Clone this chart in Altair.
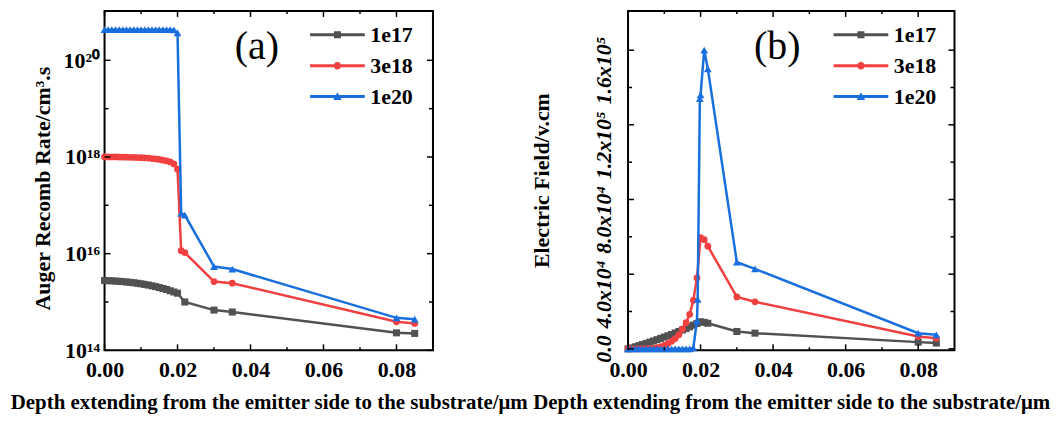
import altair as alt
import pandas as pd

SERIF = "Liberation Serif"

SERIES = ["1e17", "3e18", "1e20"]
COLORS = ["#515151", "#F14040", "#1A6FDF"]
MARKERS = ["square", "circle", "triangle-up"]
MARKER_SIZES = [50, 46, 62]

DENSE_X = [0.000, 0.001, 0.002, 0.003, 0.004, 0.005, 0.006, 0.007, 0.008, 0.009,
           0.010, 0.011, 0.012, 0.013, 0.014, 0.015, 0.016, 0.017, 0.018, 0.019, 0.020]

# ---------- panel (a): Auger recombination rate ----------
A_X_1E17 = DENSE_X + [0.022, 0.030, 0.035, 0.080, 0.085]
A_Y_1E17 = [2.78e15, 2.76e15, 2.74e15, 2.71e15, 2.68e15, 2.64e15, 2.60e15, 2.55e15,
            2.50e15, 2.44e15, 2.38e15, 2.31e15, 2.24e15, 2.16e15, 2.08e15, 1.99e15,
            1.90e15, 1.81e15, 1.71e15, 1.61e15, 1.52e15,
            1.0e15, 6.8e14, 6.2e14, 2.3e14, 2.24e14]

A_X_3E18 = DENSE_X + [0.021, 0.022, 0.030, 0.035, 0.080, 0.085]
A_Y_3E18 = [1.00e18, 1.00e18, 1.00e18, 1.00e18, 0.995e18, 0.99e18, 0.99e18, 0.985e18,
            0.98e18, 0.975e18, 0.97e18, 0.96e18, 0.95e18, 0.93e18, 0.91e18, 0.89e18,
            0.86e18, 0.83e18, 0.79e18, 0.72e18, 0.56e18,
            1.15e16, 1.05e16, 2.65e15, 2.45e15, 3.9e14, 3.6e14]

A_X_1E20 = DENSE_X + [0.021, 0.022, 0.030, 0.035, 0.080, 0.085]
A_Y_1E20 = [4.3e20, 4.3e20, 4.3e20, 4.3e20, 4.3e20, 4.3e20, 4.3e20, 4.3e20,
            4.3e20, 4.3e20, 4.3e20, 4.3e20, 4.3e20, 4.3e20, 4.3e20, 4.3e20,
            4.3e20, 4.3e20, 4.3e20, 4.25e20, 3.7e20,
            6.8e16, 6.3e16, 5.4e15, 4.8e15, 4.7e14, 4.4e14]

# ---------- panel (b): electric field ----------
B_X_1E17 = DENSE_X + [0.021, 0.022, 0.030, 0.035, 0.080, 0.085]
B_Y_1E17 = [0, 500, 1100, 1700, 2300, 2900, 3600, 4200, 4900, 5600, 6300, 7000,
            7700, 8500, 9300, 10100, 10900, 11800, 12700, 13600, 14500,
            14200, 13700, 9300, 8400, 3600, 3100]

B_X_3E18 = DENSE_X + [0.021, 0.022, 0.030, 0.035, 0.080, 0.085]
B_Y_3E18 = [0, 0, 0, 10, 30, 60, 150, 300, 600, 1100, 1900, 2800, 4000, 5500,
            7500, 10500, 14000, 18500, 26000, 38000, 59600,
            58500, 55000, 27800, 25200, 6600, 5700]

B_X_1E20 = [0.000, 0.001, 0.002, 0.003, 0.004, 0.005, 0.006, 0.007, 0.008, 0.009,
            0.010, 0.011, 0.012, 0.013, 0.014, 0.015, 0.016, 0.017, 0.018,
            0.019, 0.0192, 0.0198, 0.020, 0.021, 0.022, 0.030, 0.035, 0.080, 0.085]
B_Y_1E20 = [0, 0, 0, 0, 0, 0, 0, 0, 0, 0, 0, 0, 0, 0, 0, 0, 0, 0, 500,
            15000, 26500, 134000, 136000, 160000, 150000, 46400, 42800, 8400, 7500]

# ---------- ticks and labels ----------
X_MAJOR = [0.00, 0.02, 0.04, 0.06, 0.08]
X_MINOR = [0.01, 0.03, 0.05, 0.07]
A_Y_MAJOR = [1e14, 1e16, 1e18, 1e20]
A_Y_MINOR = [1e15, 1e17, 1e19]
A_Y_EXP = [14, 16, 18, 20]
A_Y_LABELS = ["10\u00b9\u2074", "10\u00b9\u2076", "10\u00b9\u2078", "10\u00b2\u2070"]
B_Y_MAJOR = [0, 40000, 80000, 120000, 160000]
B_Y_MINOR = [20000, 60000, 100000, 140000]
B_Y_LABELS = ["0.0", "4.0x10\u2074", "8.0x10\u2074", "1.2x10\u2075", "1.6x10\u2075"]

X_TITLE = "Depth extending from the emitter side to the substrate/\u03bcm"
A_Y_TITLE = "Auger Recomb Rate/cm\u00b3.s"
B_Y_TITLE = "Electric Field/v.cm"

# legend symbols: a line with the marker in its middle (unit = half of sqrt(size))
LINE_PATH = "M-5.5,-0.3H5.5V0.3H-5.5Z"
LEGEND_PATHS = [
    LINE_PATH + "M-0.7,-0.7H0.7V0.7H-0.7Z",
    LINE_PATH + "M-0.75,0A0.75,0.75,0,1,1,0.75,0A0.75,0.75,0,1,1,-0.75,0Z",
    LINE_PATH + "M0,-0.85L0.85,0.7H-0.85Z",
]


def label_expr_exp(exps, labels):
    expr = "''"
    for e, lab in reversed(list(zip(exps, labels))):
        expr = f"abs(log(datum.value)/LN10 - {e}) < 0.01 ? '{lab}' : " + expr
    return expr


def label_expr_lin(vals, labels):
    expr = "''"
    for v, lab in reversed(list(zip(vals, labels))):
        expr = f"abs(datum.value - {v}) < 1 ? '{lab}' : " + expr
    return expr


def panel(series, yscale, yaxis, W, H, y_major, y_minor, letter, letter_x):
    x_axis = alt.Axis(values=X_MAJOR, format=".2f", title=X_TITLE, titleFontSize=21,
                      labelPadding=9, titleX=W / 2, titleY=58, titleBaseline="alphabetic",
                      titleAlign="center", titleAngle=0)
    xs = alt.Scale(domain=[0, 0.09], nice=False, zero=False)
    X = alt.X("x:Q", scale=xs, axis=x_axis)
    Y = alt.Y("y:Q", scale=yscale, axis=yaxis)

    layers = []
    for (xv, yv), color, shape, size in zip(series, COLORS, MARKERS, MARKER_SIZES):
        base = alt.Chart(pd.DataFrame({"x": xv, "y": yv}))
        layers.append(base.mark_line(color=color, strokeWidth=2.5).encode(x=X, y=Y))
        layers.append(base.mark_point(shape=shape, filled=True, color=color, size=size,
                                      opacity=1).encode(x=X, y=Y))

    # inward ticks on all four sides
    def xticks(vals, length):
        c = alt.Chart(pd.DataFrame({"x": vals}))
        return [
            c.mark_rule(color="black", strokeWidth=1.5).encode(
                x=X, y=alt.value(H), y2=alt.value(H - length)),
            c.mark_rule(color="black", strokeWidth=1.5).encode(
                x=X, y=alt.value(0), y2=alt.value(length)),
        ]

    def yticks(vals, length):
        c = alt.Chart(pd.DataFrame({"y": vals}))
        return [
            c.mark_rule(color="black", strokeWidth=1.5).encode(
                y=Y, x=alt.value(0), x2=alt.value(length)),
            c.mark_rule(color="black", strokeWidth=1.5).encode(
                y=Y, x=alt.value(W), x2=alt.value(W - length)),
        ]

    layers += xticks(X_MAJOR, 6) + xticks(X_MINOR, 3)
    layers += yticks(y_major, 6) + yticks(y_minor, 4)

    layers.append(
        alt.Chart(pd.DataFrame({"t": [letter]})).mark_text(
            font=SERIF, fontSize=40, align="center", baseline="alphabetic", color="black"
        ).encode(text="t:N", x=alt.value(letter_x), y=alt.value(48))
    )

    leg = alt.Legend(title=None, orient="none", legendX=223, legendY=13, padding=0,
                     labelFont=SERIF, labelFontWeight="bold", labelFontSize=22,
                     labelColor="black", labelOffset=22, rowPadding=9,
                     symbolStrokeWidth=0, symbolOpacity=1)
    layers.append(
        alt.Chart(pd.DataFrame({"series": SERIES})).transform_filter("false")
        .mark_point(filled=True, size=100, opacity=1)
        .encode(
            color=alt.Color("series:N", scale=alt.Scale(domain=SERIES, range=COLORS), legend=leg),
            shape=alt.Shape("series:N", scale=alt.Scale(domain=SERIES, range=LEGEND_PATHS), legend=leg),
        )
    )
    return alt.layer(*layers).properties(width=W, height=H)


W_A, W_B, H = 330, 328, 341

a_yaxis = alt.Axis(values=A_Y_MAJOR, labelExpr=label_expr_exp(A_Y_EXP, A_Y_LABELS),
                   title=A_Y_TITLE, titleFontSize=22, labelPadding=5, titleX=-55, titleY=178,
                   titleBaseline="alphabetic", titleAngle=270, titleAlign="center")
b_yaxis = alt.Axis(values=B_Y_MAJOR, labelExpr=label_expr_lin(B_Y_MAJOR, B_Y_LABELS),
                   labelAngle=270, labelAlign="right", labelBaseline="alphabetic",
                   labelOffset=-14, labelFontStyle="italic", labelFontSize=22, labelPadding=18,
                   title=B_Y_TITLE, titleFontSize=22, titleX=-80, titleY=170,
                   titleBaseline="alphabetic", titleAngle=270, titleAlign="center")

pa = panel([(A_X_1E17, A_Y_1E17), (A_X_3E18, A_Y_3E18), (A_X_1E20, A_Y_1E20)],
           alt.Scale(type="log", domain=[1e14, 1.05e21], nice=False), a_yaxis,
           W_A, H, A_Y_MAJOR, A_Y_MINOR, "(a)", 153)
pb = panel([(B_X_1E17, B_Y_1E17), (B_X_3E18, B_Y_3E18), (B_X_1E20, B_Y_1E20)],
           alt.Scale(domain=[-800, 181000], nice=False, zero=False), b_yaxis,
           W_B, H, B_Y_MAJOR, B_Y_MINOR, "(b)", 150)

chart = (
    alt.hconcat(pa, pb, spacing=196, bounds="flush")
    .resolve_scale(color="independent", shape="independent")
    .resolve_legend(color="independent", shape="independent")
    .properties(padding={"left": 0, "top": 0, "right": 2, "bottom": 0})
    .configure(font=SERIF)
    .configure_view(stroke="black", strokeWidth=2)
    .configure_axis(grid=False, domain=False, ticks=False, tickSize=0,
                    labelFont=SERIF, labelFontWeight="bold", labelFontSize=22,
                    labelColor="black", titleFont=SERIF, titleFontWeight="bold",
                    titleColor="black", labelFlush=False, labelOverlap=False)
    .configure_legend(labelFont=SERIF, labelFontWeight="bold", labelFontSize=22,
                      labelColor="black")
)

chart.save("out.html", embed_options={"renderer": "svg", "actions": False})
